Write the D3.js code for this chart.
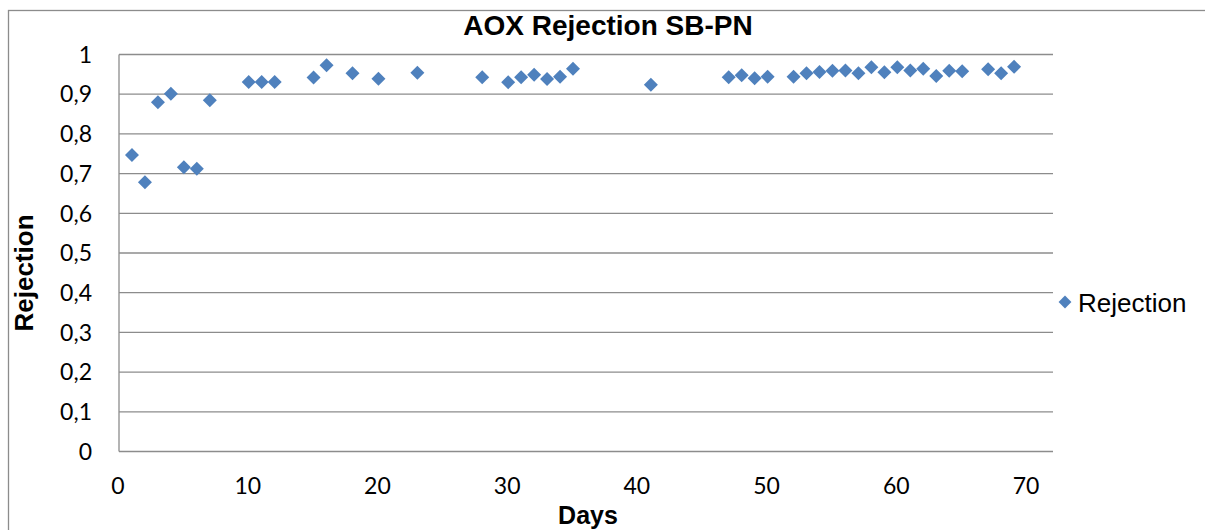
<!DOCTYPE html>
<html>
<head>
<meta charset="utf-8">
<script src="https://cdn.jsdelivr.net/npm/d3@7"></script>
<style>
  html, body { margin: 0; padding: 0; background: #fff; }
  svg { display: block; }
</style>
</head>
<body>
<svg id="chart" width="1205" height="530"></svg>
<script>
// Sampling days and AOX rejection measured on each day
const days = [1, 2, 3, 4, 5, 6, 7, 10, 11, 12, 15, 16, 18, 20, 23, 28, 30, 31, 32, 33, 34, 35, 41,
              47, 48, 49, 50, 52, 53, 54, 55, 56, 57, 58, 59, 60, 61, 62, 63, 64, 65, 67, 68, 69];
const rejection = [0.747, 0.678, 0.880, 0.901, 0.716, 0.712, 0.885, 0.931, 0.931, 0.931, 0.942, 0.973,
                   0.953, 0.939, 0.954, 0.943, 0.930, 0.943, 0.949, 0.938, 0.944, 0.964, 0.924,
                   0.943, 0.948, 0.940, 0.944, 0.944, 0.953, 0.956, 0.959, 0.960, 0.953, 0.968,
                   0.955, 0.968, 0.960, 0.964, 0.946, 0.959, 0.958, 0.963, 0.953, 0.969];
const xTicks = [0, 10, 20, 30, 40, 50, 60, 70];
const yTicks = [0, 0.1, 0.2, 0.3, 0.4, 0.5, 0.6, 0.7, 0.8, 0.9, 1];

const svg = d3.select("#chart");
const blue = "#4F81BD";
const grid = "#8c8c8c";

// Plot area
const plot = { left: 119, right: 1053, top: 54.5, bottom: 451.5 };
const x = d3.scaleLinear().domain([0, 72]).range([plot.left, plot.right]);
const y = d3.scaleLinear().domain([0, 1]).range([plot.bottom, plot.top]);

// Outer chart border
svg.append("rect")
  .attr("x", 8.5).attr("y", 10.5)
  .attr("width", 1220).attr("height", 540)
  .attr("fill", "none").attr("stroke", grid).attr("stroke-width", 1.3);

// Horizontal gridlines
svg.append("g").selectAll("line").data(yTicks).join("line")
  .attr("x1", plot.left).attr("x2", plot.right)
  .attr("y1", d => y(d)).attr("y2", d => y(d))
  .attr("stroke", grid).attr("stroke-width", 1.3);

// Left axis line
svg.append("line")
  .attr("x1", plot.left).attr("x2", plot.left).attr("y1", plot.top).attr("y2", plot.bottom)
  .attr("stroke", grid).attr("stroke-width", 1.3);

// Y axis tick labels
const fmt = d => d3.format(".1~f")(d).replace(".", ",");
svg.append("g").selectAll("text").data(yTicks).join("text")
  .attr("x", 92).attr("y", d => y(d))
  .attr("dy", "0.36em")
  .attr("text-anchor", "end")
  .attr("font-family", "Lato, 'Open Sans', sans-serif")
  .attr("font-size", 23)
  .attr("fill", "#000")
  .text(fmt);

// X axis tick labels
svg.append("g").selectAll("text").data(xTicks).join("text")
  .attr("x", d => x(d) - 1).attr("y", 494)
  .attr("text-anchor", "middle")
  .attr("font-family", "Lato, 'Open Sans', sans-serif")
  .attr("font-size", 23)
  .attr("fill", "#000")
  .text(d => d);

// Data points as diamonds
const diamond = d3.symbol().type(d3.symbolDiamond2).size(125);
svg.append("g").selectAll("path").data(days.map((d, i) => [d, rejection[i]])).join("path")
  .attr("transform", d => `translate(${x(d[0])},${y(d[1])})`)
  .attr("d", diamond)
  .attr("fill", blue);

// Title
svg.append("text")
  .attr("x", 608).attr("y", 35)
  .attr("text-anchor", "middle")
  .attr("font-family", "'Liberation Sans', Arial, sans-serif")
  .attr("font-weight", "bold")
  .attr("font-size", 28)
  .text("AOX Rejection SB-PN");

// Axis titles
svg.append("text")
  .attr("x", 588).attr("y", 524)
  .attr("text-anchor", "middle")
  .attr("font-family", "'Liberation Sans', Arial, sans-serif")
  .attr("font-weight", "bold")
  .attr("font-size", 25)
  .text("Days");

svg.append("text")
  .attr("transform", "translate(33,273) rotate(-90)")
  .attr("text-anchor", "middle")
  .attr("font-family", "'Liberation Sans', Arial, sans-serif")
  .attr("font-weight", "bold")
  .attr("font-size", 26)
  .text("Rejection");

// Legend
const legend = svg.append("g").attr("transform", "translate(1065,302)");
legend.append("path")
  .attr("d", d3.symbol().type(d3.symbolDiamond2).size(105))
  .attr("fill", blue);
legend.append("text")
  .attr("x", 13).attr("y", 10)
  .attr("font-family", "'Liberation Sans', Arial, sans-serif")
  .attr("font-size", 26)
  .text("Rejection");
</script>
</body>
</html>
